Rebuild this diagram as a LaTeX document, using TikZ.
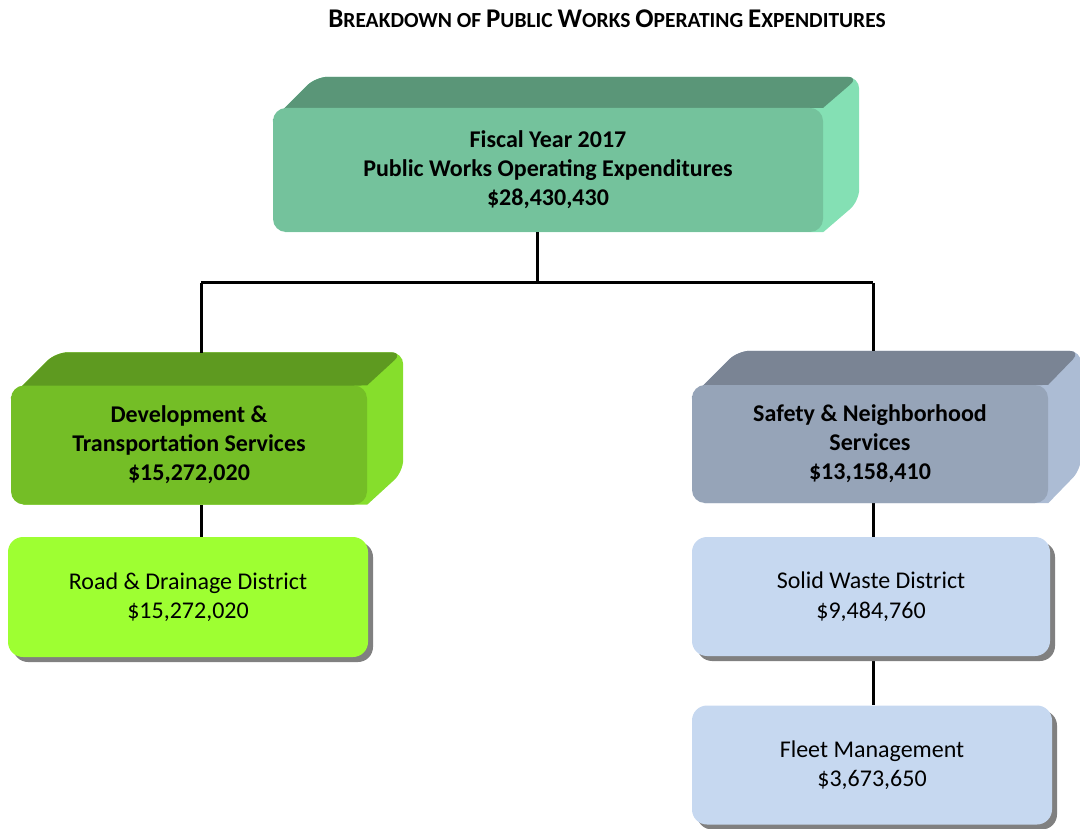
\documentclass[tikz,border=0pt]{standalone}
\usepackage{fontspec}
\setmainfont{Carlito}
\usetikzlibrary{backgrounds,calc,shadows}

\definecolor{topfront}{HTML}{74C29C}
\definecolor{toptop}{HTML}{5A9678}
\definecolor{topside}{HTML}{84E0B4}
\definecolor{devfront}{HTML}{74BE26}
\definecolor{devtop}{HTML}{5E9A20}
\definecolor{devside}{HTML}{86DE2C}
\definecolor{safefront}{HTML}{96A4B8}
\definecolor{safetop}{HTML}{7A8494}
\definecolor{safeside}{HTML}{ACBCD4}
\definecolor{roadfill}{HTML}{9EFF32}
\definecolor{unitfill}{HTML}{C6D8F0}
\definecolor{shadowc}{HTML}{808080}

% a raised box: the node is the front face; the top and right faces sit
% behind it, with a chamfered upper-left edge
% #1 node, #2 depth right, #3 depth up, #4 top colour, #5 side colour
\newcommand\bevelface[5]{%
  \begin{pgfonlayer}{background}
    \fill[#5] ($(#1.north west)+(0,12)$)
      [rounded corners=12pt] -- ($(#1.north west)+(12+#3,-#3)$)
      -- ($(#1.north east)+(#2,-#3)$) -- ($(#1.south east)+(#2,-#3)$)
      [sharp corners] -- (#1.south east) -- ($(#1.south west)+(12,0)$) -- cycle;
    \fill[#4] ($(#1.north west)+(0,12)$)
      [rounded corners=12pt] -- ($(#1.north west)+(12+#3,-#3)$)
      -- ($(#1.north east)+(#2,-#3)$)
      [sharp corners] -- (#1.north east) -- ($(#1.north west)+(12,12)$) -- cycle;
  \end{pgfonlayer}}

\newcommand\capl[1]{{\fontsize{27}{27}\selectfont #1}}

\begin{document}
\begin{tikzpicture}[x=1pt,y=-1pt,
  headbox/.style={rectangle, rounded corners=13pt, inner sep=0pt, align=center,
    font=\fontsize{24}{29}\selectfont\bfseries},
  unitbox/.style={rectangle, rounded corners=15pt, inner sep=0pt, align=center,
    font=\fontsize{24}{29.5}\selectfont,
    general shadow={fill=shadowc, shadow xshift=5pt, shadow yshift=-5pt}},
  link/.style={line width=3pt, black}]
\useasboundingbox (0,0) rectangle (1080,829);

% title
\node[font=\fontsize{21.5}{24}\selectfont\bfseries] (title) at (607,19)
  {\capl{B}REAKDOWN OF \capl{P}UBLIC \capl{W}ORKS \capl{O}PERATING \capl{E}XPENDITURES};

% head of the chart
\node[headbox, fill=topfront, minimum width=550pt, minimum height=124pt] (fy) at (548,170)
  {Fiscal Year 2017\\Public Works Operating Expenditures\\\$28,430,430};
\bevelface{fy}{36}{31}{toptop}{topside}

% divisions
\node[headbox, fill=devfront, minimum width=356pt, minimum height=119pt] (dev) at (189,445)
  {Development \&\\Transportation Services\\\$15,272,020};
\bevelface{dev}{36}{33}{devtop}{devside}

\node[headbox, fill=safefront, minimum width=356pt, minimum height=118pt] (safe) at (870,444)
  {Safety \& Neighborhood\\Services\\\$13,158,410};
\bevelface{safe}{33}{34}{safetop}{safeside}

% districts
\node[unitbox, fill=roadfill, minimum width=360pt, minimum height=120pt] (road) at (188,597)
  {Road \& Drainage District\\\$15,272,020};
\node[unitbox, fill=unitfill, minimum width=358pt, minimum height=119pt] (solid) at (871,596.5)
  {Solid Waste District\\\$9,484,760};
\node[unitbox, fill=unitfill, minimum width=360pt, minimum height=119pt] (fleet) at (872,765)
  {Fleet Management\\\$3,673,650};

% connectors
\coordinate (busM) at (537,283);
\coordinate (busL) at (201,283);
\coordinate (busR) at (873,283);
\coordinate (devTop) at (201,353);
\coordinate (safeTop) at (873,351);
\begin{pgfonlayer}{background}
\draw[link] (busM |- fy.south) -- (busM);
\draw[link] (busL) -- (busR);
\draw[link] (busL) -- (devTop);
\draw[link] (busR) -- (safeTop);
\draw[link] (busL |- dev.south) -- (busL |- road.north);
\draw[link] (busR |- safe.south) -- (busR |- solid.north);
\draw[link] (busR |- solid.south) -- (busR |- fleet.north);
\end{pgfonlayer}
\end{tikzpicture}
\end{document}
